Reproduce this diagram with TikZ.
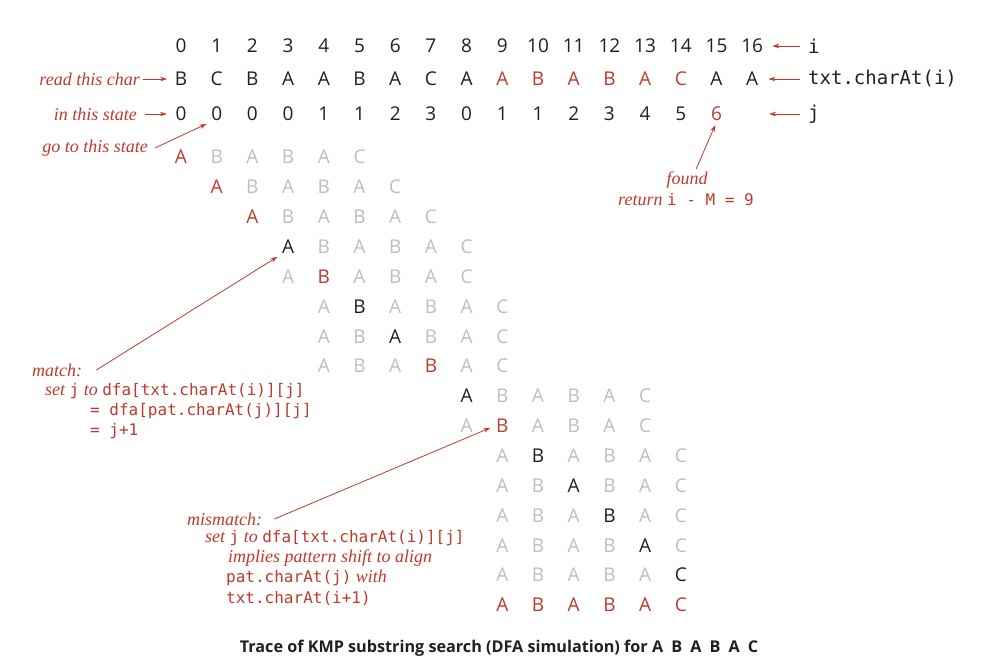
\documentclass[tikz,border=0pt]{standalone}
\usepackage{fontspec}
\setmainfont{Open Sans}
\setmonofont{DejaVu Sans Mono}
\newfontfamily\notefont{Liberation Serif}
\usetikzlibrary{arrows.meta}

\definecolor{kred}{RGB}{192,57,43}
\definecolor{kgray}{RGB}{190,190,190}
\definecolor{kink}{RGB}{35,31,32}
\newcommand{\kcode}[1]{{\upshape\ttfamily\fontsize{16}{16}\selectfont #1}}

\begin{document}
\begin{tikzpicture}[x=1pt, y=-1pt, arrows={-Stealth[length=7pt,width=4.5pt]},
	ch/.style={inner sep=1pt, text=kink, font=\fontsize{19}{19}\selectfont},
	note/.style={inner sep=0pt, anchor=west, text=kred, font=\fontsize{18}{18}\selectfont\notefont\itshape},
	lab/.style={inner sep=0pt, anchor=west, text=kink, font=\fontsize{19}{19}\selectfont\ttfamily},
	ptr/.style={draw=kred, line width=0.8pt}]
	\useasboundingbox (0,0) rectangle (990,669);

	% index, text and state rows
	\foreach \k in {0,...,16}
		\node[ch] (n\k) at ({181+35.7*\k},46) {\k};
	\foreach \c [count=\k from 0] in {B,C,B,A,A,B,A,C,A,A,B,A,B,A,C,A,A} {
		\ifnum\k>8 \ifnum\k<15 \def\col{kred}\else\def\col{kink}\fi\else\def\col{kink}\fi
		\node[ch, text=\col] (t\k) at ({181+35.7*\k},79) {\c};
	}
	\foreach \v [count=\k from 0] in {0,0,0,0,1,1,2,3,0,1,1,2,3,4,5,6} {
		\ifnum\k=15 \def\col{kred}\else\def\col{kink}\fi
		\node[ch, text=\col] (j\k) at ({181+35.7*\k},114) {\v};
	}
	\coordinate (j16) at (769,114);

	% pattern rows: row/start/hit/hit colour/rest colour
	\foreach \r/\s/\h/\hc/\rc in {0/0/0/kred/kgray, 1/1/0/kred/kgray, 2/2/0/kred/kgray,
		3/3/0/kink/kgray, 4/3/1/kred/kgray, 5/4/1/kink/kgray, 6/4/2/kink/kgray,
		7/4/3/kred/kgray, 8/8/0/kink/kgray, 9/8/1/kred/kgray, 10/9/1/kink/kgray,
		11/9/2/kink/kgray, 12/9/3/kink/kgray, 13/9/4/kink/kgray, 14/9/5/kink/kgray,
		15/9/0/kred/kred}
		\foreach \p [count=\q from 0] in {A,B,A,B,A,C} {
			\ifnum\q=\h \def\col{\hc}\else\def\col{\rc}\fi
			\node[ch, text=\col] (p\r-\q) at ({181+35.7*(\s+\q)},{157+29.87*\r}) {\p};
		}

	% right labels
	\node[lab] (ilab) at (808,46) {i};
	\node[lab] (txtlab) at (808,79) {txt.charAt(i)};
	\node[lab] (jlab) at (808,114) {j};
	\draw[ptr] ([xshift=-8pt]ilab.west) -- ([xshift=8pt]n16.east);
	\draw[ptr] ([xshift=-8pt]txtlab.west) -- ([xshift=9pt]t16.east);
	\draw[ptr] ([xshift=-8pt]jlab.west) -- (j16);

	% left labels
	\node[note, anchor=east] (read) at (140,79) {read this char};
	\node[note, anchor=east] (state) at (137,114) {in this state};
	\node[note, anchor=east] (goto) at (148,148) {go to this state};
	\draw[ptr, shorten <=3pt, shorten >=6.5pt] (read) -- (t0);
	\draw[ptr, shorten <=8pt, shorten >=7.5pt] (state) -- (j0);
	\draw[ptr, shorten >=4pt] ([xshift=7pt]goto.east) -- (j1.south west);

	% found
	\node[note, anchor=center] (found) at (687,180) {found};
	\node[note, anchor=center] (ret) at (686,200) {return \kcode{i - M = 9}};
	\draw[ptr, shorten <=3pt, shorten >=3pt] ([xshift=8pt]found.north) -- (j15.south);

	% match
	\node[note] (match) at (32,370) {match:};
	\node[note] (m1) at (45,391) {set \kcode{j} to \kcode{dfa[txt.charAt(i)][j]}};
	\node[note] (m2) at (90,411) {\kcode{= dfa[pat.charAt(j)][j]}};
	\node[note] (m3) at (90,431) {\kcode{= j+1}};
	\draw[ptr, shorten >=4pt] ([xshift=14pt]match.east) -- (p3-0.south west);

	% mismatch
	\node[note] (mis) at (187,519) {mismatch:};
	\node[note] (s1) at (205,538) {set \kcode{j} to \kcode{dfa[txt.charAt(i)][j]}};
	\node[note] (s2) at (228,558) {implies pattern shift to align};
	\node[note] (s3) at (226,578) {\kcode{pat.charAt(j)} with};
	\node[note] (s4) at (226,598) {\kcode{txt.charAt(i+1)}};
	\draw[ptr, shorten >=5pt] ([xshift=12pt]mis.east) -- (p9-1.west);

	\node[text=kink, font=\fontsize{16.2}{16}\selectfont\bfseries] (cap) at (499,648)
		{Trace of KMP substring search (DFA simulation) for A\enspace B\enspace A\enspace B\enspace A\enspace C};
\end{tikzpicture}
\end{document}
